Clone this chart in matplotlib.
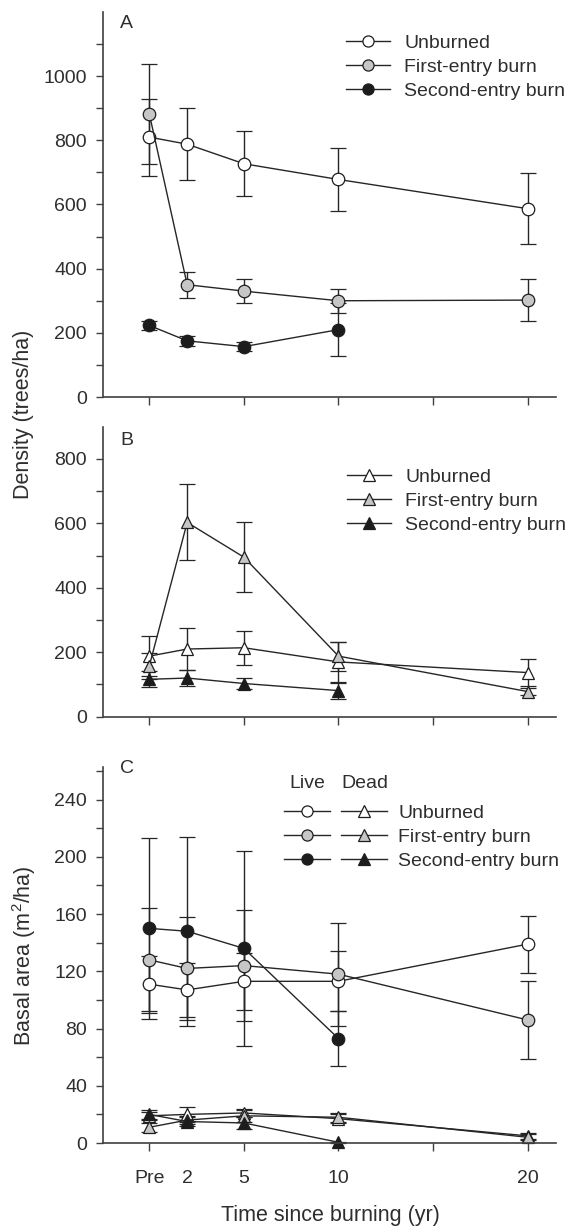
import matplotlib
matplotlib.use('Agg')
import matplotlib.pyplot as plt
from matplotlib.lines import Line2D
from matplotlib.legend_handler import HandlerTuple

plt.rcParams['font.family'] = ['Liberation Sans', 'DejaVu Sans']
plt.rcParams['mathtext.fontset'] = 'custom'
plt.rcParams['mathtext.rm'] = 'Liberation Sans'

# ---------------- data ----------------
years = [0, 2, 5, 10, 20]
years_second = [0, 2, 5, 10]
xtick_major = [0, 5, 10, 15, 20]
xtick_major_labels = ['Pre', '5', '10', '', '20']
xtick_minor = [2]
xtick_minor_labels = ['2']
series_names = ['Unburned', 'First-entry burn', 'Second-entry burn']

# Panel A: live tree density (trees/ha)
a_unburned = [810, 788, 727, 678, 587]
a_unburned_se = [120, 112, 102, 97, 110]
a_first = [882, 350, 330, 300, 302]
a_first_se = [155, 40, 37, 37, 66]
a_second = [223, 175, 157, 210]
a_second_se = [15, 15, 15, 82]

# Panel B: dead tree density (trees/ha)
b_unburned = [188, 210, 214, 170, 137]
b_unburned_se = [62, 65, 52, 62, 42]
b_first = [158, 603, 495, 188, 78]
b_first_se = [40, 118, 108, 45, 12]
b_second = [116, 120, 103, 81]
b_second_se = [25, 24, 18, 25]

# Panel C: basal area (m2/ha), live and dead
c_live_unburned = [111, 107, 113, 113, 139]
c_live_unburned_se = [20, 19, 20, 21, 20]
c_live_first = [128, 122, 124, 118, 86]
c_live_first_se = [36, 36, 39, 36, 27]
c_live_second = [150, 148, 136, 73]
c_live_second_se = [63, 66, 68, 19]
c_dead_unburned = [19, 20, 21, 17, 5]
c_dead_unburned_se = [3, 5, 3, 3, 2]
c_dead_first = [11, 16, 19, 18, 4]
c_dead_first_se = [3, 3, 4, 3, 2]
c_dead_second = [20, 15, 14, 0.5]
c_dead_second_se = [3, 3, 4, 0.5]

# ---------------- style ----------------
LINE = '#262626'
EDGE = '#1e1e1e'
SPINE = '#404040'
TXT = '#2e2e2e'
FILLS = ['white', '#c6c6c6', '#1c1c1c']
MS = 9
LW = 1.0
FS = 14

W, H = 570, 1228
fig = plt.figure(figsize=(W / 100, H / 100), dpi=100)


def rect(left, top, right, bottom):
    return [left / W, 1 - bottom / H, (right - left) / W, (bottom - top) / H]


axA = fig.add_axes(rect(103, 12, 556, 397))
axB = fig.add_axes(rect(103, 426.7, 556, 716.7))
axC = fig.add_axes(rect(103, 766.7, 556, 1143))


def draw(ax, x, y, se, marker, fill):
    ax.errorbar(x, y, yerr=se, fmt='-', color=LINE, lw=LW, marker=marker,
                mfc=fill, mec=EDGE, ms=MS, mew=0.9, ecolor=LINE,
                elinewidth=LW, capsize=5.5, capthick=LW, clip_on=False)


def style(ax, ymax, ytop, ystep, lstep, show_x):
    ax.set_xlim(-2.45, 21.5)
    ax.set_ylim(0, ytop)
    for s in ['top', 'right']:
        ax.spines[s].set_visible(False)
    for s in ['left', 'bottom']:
        ax.spines[s].set_color(SPINE)
        ax.spines[s].set_linewidth(1.2)
    yt = list(range(0, ymax + 1, ystep))
    ax.set_yticks(yt, labels=[str(v) if v % lstep == 0 else '' for v in yt])
    ax.tick_params(axis='y', direction='out', length=5, width=1, color=SPINE,
                   labelsize=FS, labelcolor=TXT, pad=6.5)
    if show_x:
        ax.set_xticks(xtick_major, labels=xtick_major_labels)
        ax.set_xticks(xtick_minor, labels=xtick_minor_labels, minor=True)
        ax.tick_params(axis='x', which='major', direction='out', length=5.5,
                       width=1, color=SPINE, labelsize=FS, labelcolor=TXT, pad=14)
        ax.tick_params(axis='x', which='minor', length=0, labelsize=FS,
                       labelcolor=TXT, pad=19.5)
    else:
        ax.set_xticks(xtick_major, labels=[''] * len(xtick_major))
        ax.tick_params(axis='x', which='major', direction='out', length=5.5,
                       width=1, color=SPINE)


# Panel A
draw(axA, years, a_unburned, a_unburned_se, 'o', FILLS[0])
draw(axA, years, a_first, a_first_se, 'o', FILLS[1])
draw(axA, years_second, a_second, a_second_se, 'o', FILLS[2])
style(axA, 1100, 1200, 100, 200, False)

# Panel B
draw(axB, years, b_unburned, b_unburned_se, '^', FILLS[0])
draw(axB, years, b_first, b_first_se, '^', FILLS[1])
draw(axB, years_second, b_second, b_second_se, '^', FILLS[2])
style(axB, 800, 900, 100, 200, False)

# Panel C
draw(axC, years, c_live_unburned, c_live_unburned_se, 'o', FILLS[0])
draw(axC, years, c_live_first, c_live_first_se, 'o', FILLS[1])
draw(axC, years_second, c_live_second, c_live_second_se, 'o', FILLS[2])
draw(axC, years, c_dead_unburned, c_dead_unburned_se, '^', FILLS[0])
draw(axC, years, c_dead_first, c_dead_first_se, '^', FILLS[1])
draw(axC, years_second, c_dead_second, c_dead_second_se, '^', FILLS[2])
style(axC, 260, 263, 20, 40, True)


def handle(marker, fill):
    return Line2D([], [], color=LINE, lw=LW, marker=marker, mfc=fill,
                  mec=EDGE, ms=8, mew=0.9)


leg_kw = dict(loc='upper left', bbox_transform=fig.transFigure, frameon=False,
              borderpad=0, borderaxespad=0, fontsize=FS, labelspacing=0.33,
              handletextpad=0.72, labelcolor=TXT)

axA.legend([handle('o', f) for f in FILLS], series_names,
           bbox_to_anchor=(346 / W, 1 - 34 / H), handlelength=2.27, **leg_kw)
axB.legend([handle('^', f) for f in FILLS], series_names,
           bbox_to_anchor=(347 / W, 1 - 468 / H), handlelength=2.27, **leg_kw)
legC_kw = dict(leg_kw)
legC_kw['handletextpad'] = 0.57
axC.legend([(handle('o', f), handle('^', f)) for f in FILLS], series_names,
           bbox_to_anchor=(284 / W, 1 - 804 / H), handlelength=5.3,
           handler_map={tuple: HandlerTuple(ndivide=None, pad=0.57)}, **legC_kw)
fig.text(307 / W, 1 - 783 / H, 'Live', ha='center', va='center', fontsize=FS, color=TXT)
fig.text(365 / W, 1 - 783 / H, 'Dead', ha='center', va='center', fontsize=FS, color=TXT)

# Panel letters
for lab, ytop in [('A', 15), ('B', 432), ('C', 760)]:
    fig.text(120 / W, 1 - ytop / H, lab, ha='left', va='top', fontsize=FS, color=TXT)

# Axis labels
fig.text(24 / W, 1 - 414 / H, 'Density (trees/ha)', rotation=90, ha='center',
         va='center', fontsize=15.5, color=TXT)
fig.text(24 / W, 1 - 956 / H, 'Basal area (m$\\mathregular{^2}$/ha)', rotation=90,
         ha='center', va='center', fontsize=15.5, color=TXT)
fig.text(330 / W, 1 - 1216 / H, 'Time since burning (yr)', ha='center',
         va='center', fontsize=15.5, color=TXT)

fig.savefig('out.png', dpi=100)
